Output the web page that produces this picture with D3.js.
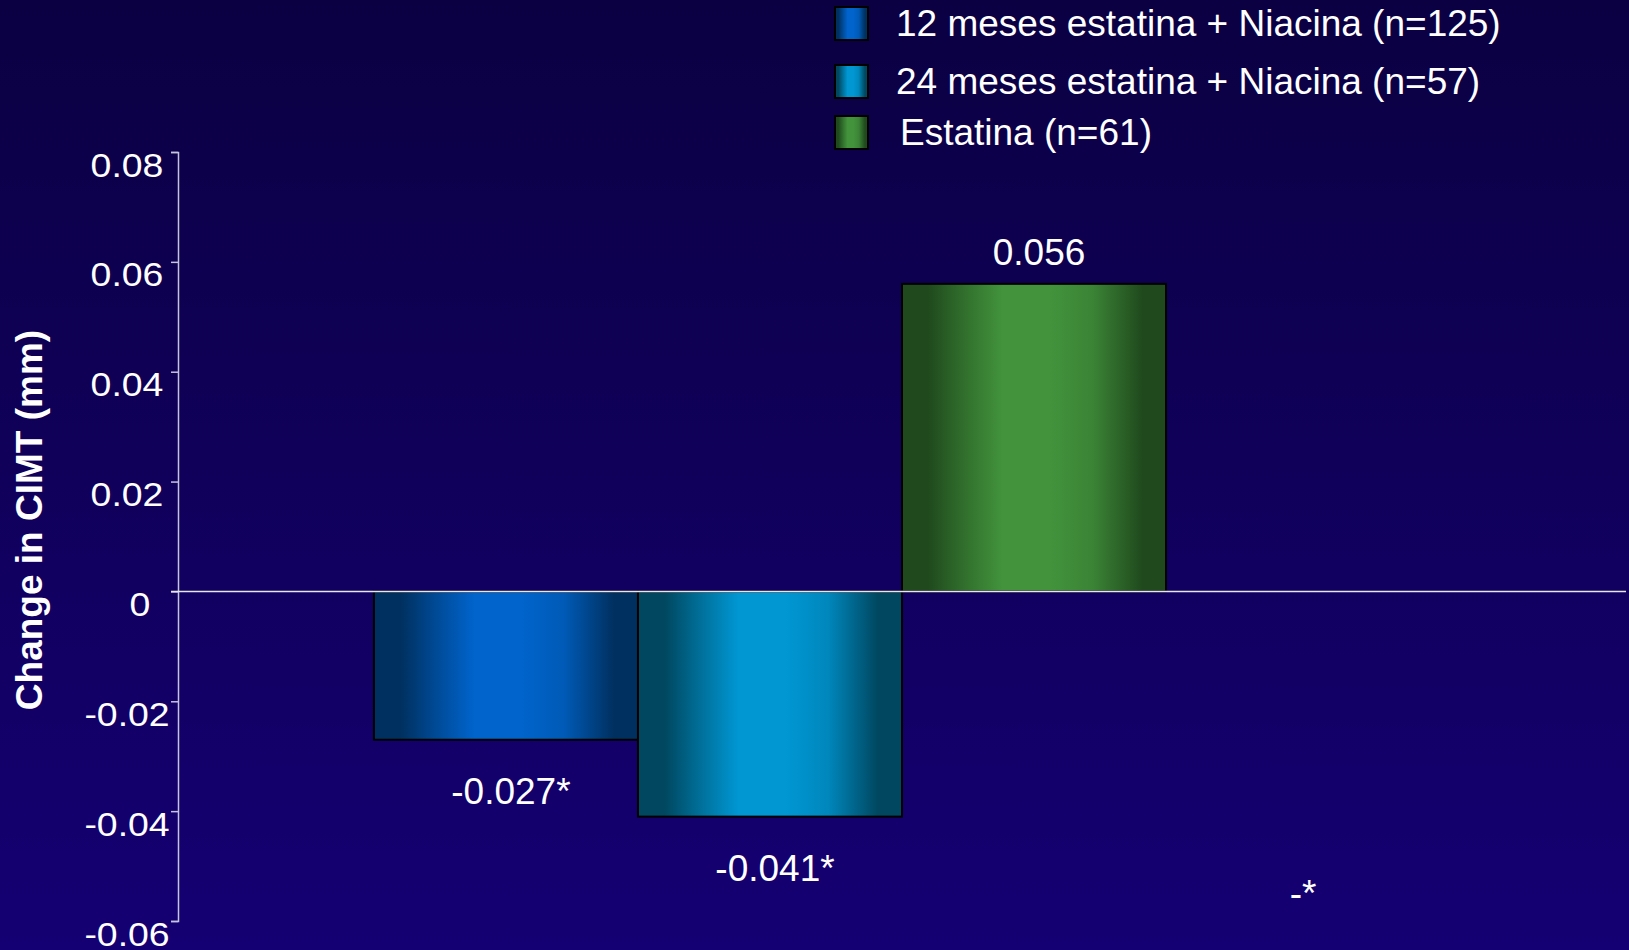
<!DOCTYPE html>
<html><head><meta charset="utf-8">
<script src="https://cdn.jsdelivr.net/npm/d3@7"></script>
<style>html,body{margin:0;padding:0;background:#10005a;overflow:hidden;} svg{display:block;}</style>
</head><body>
<svg id="chart" width="1629" height="950"></svg>
<script>
// ---- data ----
const categories = ["12 meses estatina + Niacina (n=125)", "24 meses estatina + Niacina (n=57)", "Estatina (n=61)", ""];
const values = [-0.027, -0.041, 0.056, null];
const valueLabels = ["-0.027*", "-0.041*", "0.056", "-*"];
const legendLabels = ["12 meses estatina + Niacina (n=125)", "24 meses estatina + Niacina (n=57)", "Estatina (n=61)"];
const yTicks = [0.08, 0.06, 0.04, 0.02, 0, -0.02, -0.04, -0.06];
const yTickLabels = ["0.08", "0.06", "0.04", "0.02", "0", "-0.02", "-0.04", "-0.06"];
const yTitle = "Change in CIMT (mm)";

// ---- styles ----
const seriesDark = ["#00305f", "#00475f", "#204a1d"];
const seriesBright = ["#0064cc", "#0097d3", "#42933c"];
const FONT = "'Liberation Sans', Arial, sans-serif";

const W = 1629, H = 950;
const svg = d3.select("#chart");
const defs = svg.append("defs");

// background
const bg = defs.append("linearGradient").attr("id", "bg").attr("x1", 0).attr("x2", 0).attr("y1", 0).attr("y2", 1);
bg.append("stop").attr("offset", 0).attr("stop-color", "#0b0042");
bg.append("stop").attr("offset", 1).attr("stop-color", "#150073");
svg.append("rect").attr("width", W).attr("height", H).attr("fill", "url(#bg)");

// bar gradients
seriesDark.forEach((dk, i) => {
  const br = seriesBright[i];
  const mix = d3.interpolateRgb(dk, br);
  const g = defs.append("linearGradient").attr("id", "g" + i).attr("x1", 0).attr("x2", 1).attr("y1", 0).attr("y2", 0);
  [[0, dk], [0.1, dk], [0.22, mix(0.45)], [0.38, br], [0.56, br], [0.72, mix(0.8)], [0.91, dk], [1, dk]]
    .forEach(([o, c]) => g.append("stop").attr("offset", o).attr("stop-color", c));
});

// scales
const x = d3.scaleBand().domain(d3.range(categories.length)).range([178, 1626]).paddingInner(0).paddingOuter(0.742);
const y = d3.scaleLinear().domain([-0.06, 0.08]).range([921, 152]);

// y axis
const yAxis = d3.axisLeft(y).tickValues(yTicks).tickSize(7).tickSizeOuter(7)
  .tickFormat((d, i) => yTickLabels[i]);
const ga = svg.append("g").attr("transform", "translate(178,0)").call(yAxis);
ga.select(".domain").attr("stroke", "#c4c4dc").attr("stroke-width", 1.5);
ga.selectAll(".tick line").attr("stroke", "#c4c4dc").attr("stroke-width", 1.5);
const sx = 1.1;
ga.selectAll(".tick text")
  .attr("fill", "#ffffff").attr("font-family", FONT).attr("font-size", 34)
  .attr("text-anchor", "middle").attr("transform", `scale(${sx},1)`)
  .attr("x", (d, i) => (yTickLabels[i] === "0" ? -38 : -51) / sx).attr("dy", null).attr("y", 24);

// y title
svg.append("text").attr("transform", "translate(42,520) rotate(-90)")
  .attr("text-anchor", "middle").attr("font-family", FONT).attr("font-weight", "bold")
  .attr("font-size", 37).attr("fill", "#ffffff").text(yTitle);

// bars
const idx = d3.range(categories.length).filter(i => values[i] !== null);
svg.append("g").selectAll("rect").data(idx).join("rect")
  .attr("x", i => x(i)).attr("width", x.bandwidth())
  .attr("y", i => Math.min(y(values[i]), y(0)))
  .attr("height", i => Math.abs(y(values[i]) - y(0)))
  .attr("fill", i => `url(#g${i})`).attr("stroke", "#000").attr("stroke-width", 2);

// zero line
svg.append("line").attr("x1", 171).attr("x2", 1626).attr("y1", y(0)).attr("y2", y(0))
  .attr("stroke", "#e6e6f2").attr("stroke-width", 1.5);

// value labels
svg.append("g").selectAll("text").data(d3.range(categories.length)).join("text")
  .attr("x", i => x(i) + x.bandwidth() / 2 + 5)
  .attr("y", i => values[i] === null ? y(-0.06) - 15 : (values[i] >= 0 ? y(values[i]) - 19 : y(values[i]) + 64))
  .attr("text-anchor", "middle").attr("font-family", FONT).attr("font-size", 37)
  .attr("fill", "#ffffff").text(i => valueLabels[i]);

// legend
const legendRowTop = [7, 65, 116];
const lg = svg.append("g");
legendLabels.forEach((lab, i) => {
  lg.append("rect").attr("x", 835).attr("y", legendRowTop[i]).attr("width", 33).attr("height", 33)
    .attr("fill", `url(#g${i})`).attr("stroke", "#000").attr("stroke-width", 2);
  lg.append("text").attr("x", i === 2 ? 900 : 896).attr("y", legendRowTop[i] + 28.5)
    .attr("font-family", FONT).attr("font-size", 37).attr("fill", "#ffffff").text(lab);
});
</script>
</body></html>
